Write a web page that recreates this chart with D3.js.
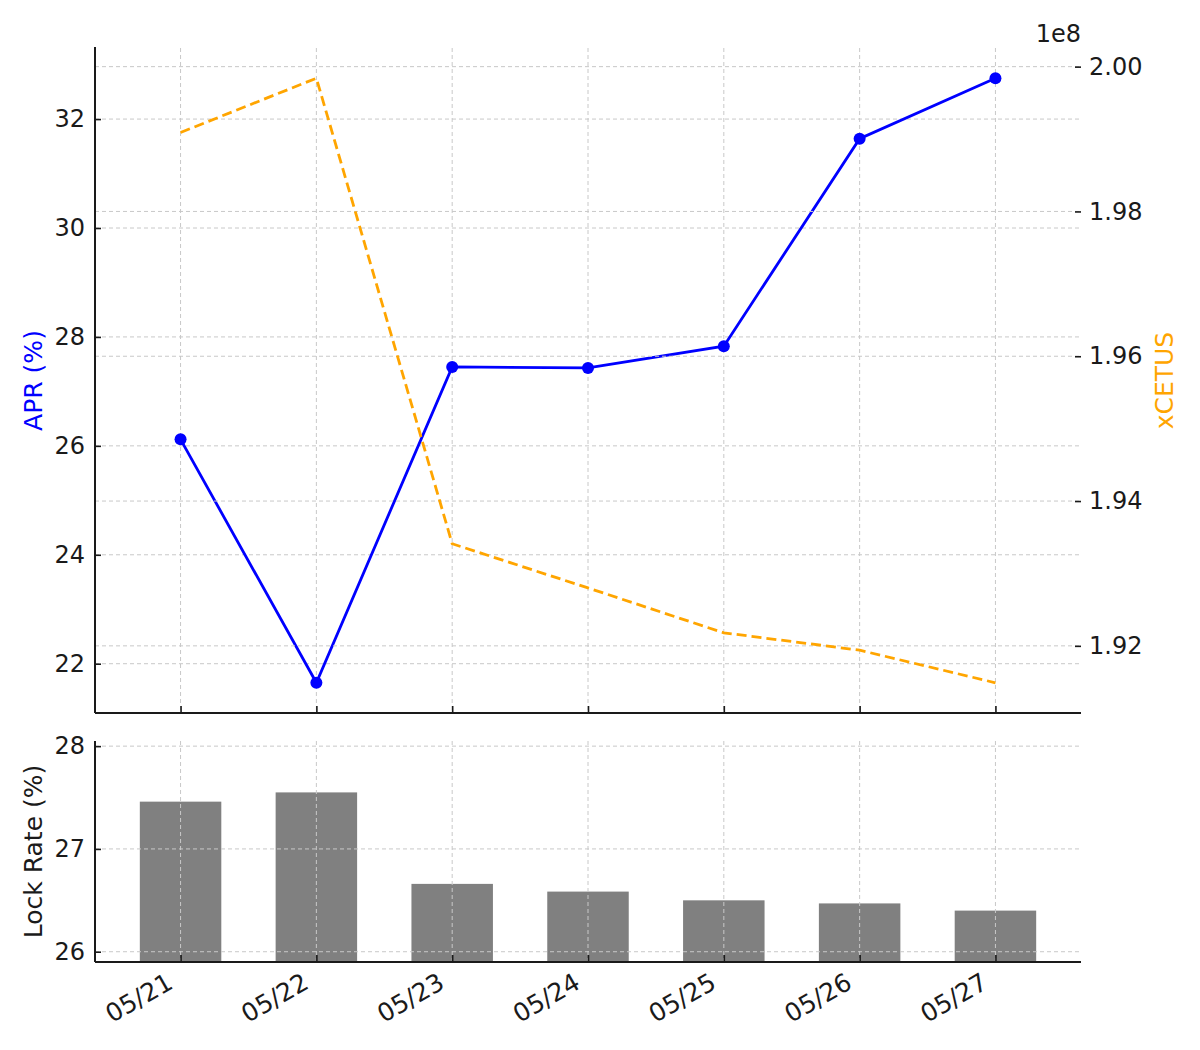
<!DOCTYPE html>
<html><head><meta charset="utf-8">
<script src="https://cdn.jsdelivr.net/npm/d3@7"></script>
<style>
body{margin:0;background:#fff;}
text{font-family:"DejaVu Sans",sans-serif;}
</style></head>
<body><svg id="chart" width="1200" height="1050"></svg>
<script>
const dates = ["05/21","05/22","05/23","05/24","05/25","05/26","05/27"];
const aprValues = [26.12, 21.65, 27.45, 27.43, 27.83, 31.64, 32.75];
const xcetusValues = [1.9909e8, 1.9984e8, 1.9341e8, 1.9280e8, 1.9218e8, 1.9194e8, 1.9149e8];
const lockRateValues = [27.46, 27.55, 26.66, 26.585, 26.50, 26.47, 26.40];
const aprTicks = [22, 24, 26, 28, 30, 32];
const xcetusTicks = [1.92e8, 1.94e8, 1.96e8, 1.98e8, 2.00e8];
const lockTicks = [26, 27, 28];

const svg = d3.select("#chart");
const L = 95, R = 1081;
const top1 = 48, bot1 = 713;
const top2 = 741, bot2 = 962;
const FS = 24;
const LFS = 25;
const gridColor = "#c8c8c8";

const idx = d3.range(dates.length);
const x = d3.scaleLinear().domain([-0.63, dates.length - 1 + 0.63]).range([L, R]);

function padded(vals){
  const [a,b] = d3.extent(vals); const p = (b-a)*0.05; return [a-p, b+p];
}
const yA = d3.scaleLinear().domain(padded(aprValues)).range([bot1, top1]);
const yX = d3.scaleLinear().domain(padded(xcetusValues)).range([bot1, top1]);
const yL = d3.scaleLinear().domain([d3.min(lockRateValues)-0.5, d3.max(lockRateValues)+0.5]).range([bot2, top2]);

function styleAxis(g){
  g.selectAll("text").attr("font-size", FS).attr("fill", "#1a1a1a").attr("font-family", "DejaVu Sans");
  g.selectAll("line").attr("stroke", "#1a1a1a").attr("stroke-width", 1.6);
  g.select(".domain").attr("stroke", "#1a1a1a").attr("stroke-width", 2);
}
function dashedGrid(g, lines){
  g.selectAll("line").data(lines).join("line")
   .attr("x1", d=>d[0]).attr("y1", d=>d[1]).attr("x2", d=>d[2]).attr("y2", d=>d[3])
   .attr("stroke", gridColor).attr("stroke-width", 1).attr("stroke-dasharray", "4,3");
}

// ---------- Top panel ----------
const gridTop = svg.append("g");
dashedGrid(gridTop.append("g"), idx.map(i => [x(i), top1, x(i), bot1]));
dashedGrid(gridTop.append("g"), aprTicks.map(t => [L, yA(t), R, yA(t)]));

const lineA = d3.line().x((d,i)=>x(i)).y(d=>yA(d));
svg.append("path").datum(aprValues).attr("d", lineA)
  .attr("fill","none").attr("stroke","#0000ff").attr("stroke-width",2.8);
svg.append("g").selectAll("circle").data(aprValues).join("circle")
  .attr("cx",(d,i)=>x(i)).attr("cy",d=>yA(d)).attr("r",6).attr("fill","#0000ff");

dashedGrid(svg.append("g"), xcetusTicks.map(t => [L, yX(t), R, yX(t)]));
const lineX = d3.line().x((d,i)=>x(i)).y(d=>yX(d));
svg.append("path").datum(xcetusValues).attr("d", lineX)
  .attr("fill","none").attr("stroke","#ffa500").attr("stroke-width",2.8).attr("stroke-dasharray","10,5");

// left axis
const axA = svg.append("g").attr("transform",`translate(${L},0)`)
  .call(d3.axisLeft(yA).tickValues(aprTicks).tickFormat(d3.format("d")).tickSizeInner(-6).tickSizeOuter(0).tickPadding(10));
styleAxis(axA);
axA.select(".domain").attr("d", `M0,${top1-1}V${bot1}`);
// right axis
const axX = svg.append("g").attr("transform",`translate(${R},0)`)
  .call(d3.axisRight(yX).tickValues(xcetusTicks).tickFormat(d=>(d/1e8).toFixed(2)).tickSizeInner(-6).tickSizeOuter(0).tickPadding(8));
styleAxis(axX);
axX.select(".domain").remove();
// bottom spine of top panel
const axB1 = svg.append("g").attr("transform",`translate(0,${bot1})`)
  .call(d3.axisBottom(x).tickValues(idx).tickFormat("").tickSizeInner(-7).tickSizeOuter(0));
styleAxis(axB1);
axB1.select(".domain").attr("d", `M${L},0H${R}`);

svg.append("text").attr("x",R).attr("y",42).attr("text-anchor","end")
  .attr("font-size",FS).attr("fill","#1a1a1a").text("1e8");
svg.append("text").attr("transform",`translate(33,${(top1+bot1)/2}) rotate(-90)`)
  .attr("text-anchor","middle").attr("dominant-baseline","central")
  .attr("font-size",LFS).attr("fill","#0000ff").text("APR (%)");
svg.append("text").attr("transform",`translate(1164,${(top1+bot1)/2}) rotate(-90)`)
  .attr("text-anchor","middle").attr("dominant-baseline","central")
  .attr("font-size",LFS).attr("fill","#ffa500").text("xCETUS");

// ---------- Bottom panel ----------
svg.append("g").selectAll("rect").data(lockRateValues).join("rect")
  .attr("x",(d,i)=>x(i-0.3)).attr("width",(d,i)=>x(i+0.3)-x(i-0.3))
  .attr("y",d=>yL(d)).attr("height",d=>bot2-yL(d)).attr("fill","#808080");
const gridBot = svg.append("g");
dashedGrid(gridBot.append("g"), idx.map(i => [x(i), top2, x(i), bot2]));
dashedGrid(gridBot.append("g"), lockTicks.map(t => [L, yL(t), R, yL(t)]));

const axL = svg.append("g").attr("transform",`translate(${L},0)`)
  .call(d3.axisLeft(yL).tickValues(lockTicks).tickFormat(d3.format("d")).tickSizeInner(-6).tickSizeOuter(0).tickPadding(10));
styleAxis(axL);
axL.select(".domain").attr("d", `M0,${top2}V${bot2}`);

const axB2 = svg.append("g").attr("transform",`translate(0,${bot2})`)
  .call(d3.axisBottom(x).tickValues(idx).tickFormat(i=>dates[i]).tickSizeInner(-7).tickSizeOuter(0));
styleAxis(axB2);
axB2.select(".domain").attr("d", `M${L},0H${R}`);
axB2.selectAll(".tick text")
  .attr("font-size", 25)
  .attr("text-anchor","end").attr("y",null).attr("dy","0.75em")
  .attr("transform","translate(-16,9) rotate(-30)");

svg.append("text").attr("transform",`translate(33,${(top2+bot2)/2}) rotate(-90)`)
  .attr("text-anchor","middle").attr("dominant-baseline","central")
  .attr("font-size",LFS).attr("fill","#1a1a1a").text("Lock Rate (%)");
</script></body></html>
